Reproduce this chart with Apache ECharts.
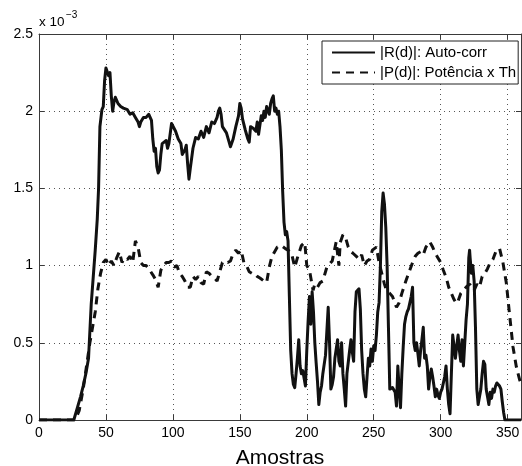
<!DOCTYPE html>
<html><head><meta charset="utf-8">
<script src="https://cdn.jsdelivr.net/npm/echarts/dist/echarts.min.js"></script>
<style>html,body{margin:0;padding:0;background:#fff}#c{width:522px;height:466px}</style>
</head><body><div id="c"></div>
<script>
// x tick values and y tick values (y in units of 10^-3)
const xTicks = [0, 50, 100, 150, 200, 250, 300, 350];
const yTicks = [0, 0.5, 1, 1.5, 2, 2.5];
const xMax = 360;
const xAxisName = 'Amostras';
const scaleExponentBase = 'x 10';
const scaleExponent = '\u22123';
const seriesNames = ['|R(d)|: Auto-corr', '|P(d)|: Potência x Th'];

// |R(d)| samples [amostra, valor x10^-3]
const rSamples = [[0,0],[26,0],[29,0.09],[31,0.15],[33,0.22],[35,0.3],[37,0.4],[39,0.75],[42,1.1],[43.5,1.3],[44.5,1.5],[45.5,1.9],[47,2.01],[48,2.03],[49,2.2],[50,2.28],[51,2.27],[52,2.23],[53,2.25],[54,2.1],[55,2.0],[56,2.06],[57,2.09],[58,2.07],[59,2.05],[60,2.06],[61,2.03],[62,2.04],[63,2.02],[64,2.03],[66,2.01],[67,2.02],[68,1.98],[70,1.99],[72,1.96],[74,1.93],[75,1.9],[76,1.93],[78,1.96],[80,1.96],[82,1.98],[83,1.97],[84,1.94],[85,1.82],[86,1.74],[87,1.76],[88,1.64],[89,1.6],[90,1.62],[91,1.72],[92,1.79],[93,1.79],[95,1.81],[96,1.76],[97,1.79],[99,1.92],[100,1.93],[102,1.87],[104,1.82],[106,1.79],[107,1.72],[109,1.75],[110,1.78],[111,1.66],[112,1.56],[113,1.63],[115,1.76],[117,1.83],[119,1.82],[121,1.87],[122,1.88],[123,1.83],[125,1.9],[127,1.86],[129,1.93],[131,1.92],[133,1.96],[134,2.0],[135,2.02],[136,1.98],[137,1.9],[138,1.91],[140,1.86],[142,1.8],[143,1.77],[145,1.82],[147,1.9],[149,1.97],[150,2.05],[151,2.02],[152,1.95],[154,1.88],[156,1.82],[157,1.8],[158,1.9],[160,1.89],[162,1.87],[163,1.93],[164,1.85],[166,1.97],[167,1.94],[168,2.0],[169,1.96],[170,2.03],[172,1.98],[173,2.05],[174,2.08],[175,2.1],[176,2.0],[177,2.02],[178,1.98],[179,2.0],[180,1.9],[181,1.75],[182,1.48],[183,1.28],[184,1.2],[185,1.22],[186,1.16],[187,0.8],[188,0.45],[189,0.3],[190,0.23],[191,0.21],[192,0.3],[193,0.4],[194,0.52],[195,0.35],[196,0.3],[197,0.32],[198,0.27],[199,0.22],[200,0.45],[201,0.64],[202,0.8],[203,0.62],[204,0.83],[205,0.7],[206,0.5],[207,0.37],[208,0.25],[209,0.1],[210,0.18],[211,0.22],[212,0.3],[214,0.42],[216,0.73],[217,0.5],[218,0.2],[219,0.23],[220,0.28],[221,0.4],[223,0.52],[224,0.38],[225,0.35],[226,0.5],[227,0.3],[228,0.2],[229,0.09],[230,0.3],[232,0.45],[233,0.52],[234,0.44],[235,0.38],[236,0.7],[237,0.83],[238,0.83],[239,0.85],[240,0.72],[241,0.45],[242,0.3],[243,0.2],[244,0.15],[245,0.28],[246,0.4],[247,0.35],[248,0.46],[249,0.38],[250,0.48],[251,0.45],[252,0.55],[253,0.7],[254,0.76],[255,1.0],[256,1.35],[257,1.47],[258,1.4],[259,1.25],[260,1.0],[261,0.6],[262,0.2],[263,0.19],[264,0.21],[265,0.2],[266,0.18],[267,0.09],[268,0.35],[269,0.2],[270,0.08],[271,0.3],[272,0.47],[273,0.62],[274,0.67],[275,0.7],[276,0.72],[277,0.72],[278,0.8],[279,0.86],[280,0.5],[281,0.45],[282,0.5],[283,0.43],[284,0.35],[285,0.45],[286,0.52],[287,0.6],[288,0.4],[289,0.42],[290,0.35],[291,0.2],[292,0.28],[293,0.33],[294,0.28],[295,0.22],[296,0.15],[297,0.2],[298,0.16],[299,0.14],[300,0.18],[301,0.2],[302,0.24],[303,0.28],[304,0.35],[305,0.2],[306,0.1],[307,0.04],[308,0.3],[309,0.55],[310,0.48],[311,0.4],[312,0.48],[313,0.55],[314,0.45],[315,0.38],[316,0.52],[317,0.35],[318,0.5],[319,0.65],[320,0.75],[321,1.05],[321.6,1.1],[322,1.05],[323,0.95],[324,1.0],[325,0.9],[326,0.6],[327,0.2],[328,0.1],[329,0.15],[330,0.2],[331,0.3],[332,0.38],[333,0.36],[334,0.2],[335,0.15],[336,0.1],[337,0.18],[338,0.14],[339,0.2],[340,0.18],[341,0.22],[342,0.24],[343,0.25],[344,0.22],[345,0.2],[346,0.12],[347,0.05],[348,0],[360,0]];

// |P(d)| samples [amostra, valor x10^-3]
const pSamples = [[0,0],[27,0],[30,0.06],[33,0.2],[35.5,0.35],[38,0.5],[40,0.6],[42,0.7],[44,0.85],[46,0.95],[48,1.02],[50,1.04],[52,1.0],[54,1.03],[56,1.0],[58,1.05],[60,1.09],[62,1.02],[64,1.05],[66,1.04],[68,1.06],[70,1.02],[72,1.16],[74,1.12],[76,1.02],[78,1.0],[80,1.0],[82,0.98],[85,0.94],[87,0.91],[89,0.86],[91,0.97],[93,1.0],[95,1.02],[97,1.02],[99,1.03],[101,0.99],[103,1.0],[105,0.95],[107,0.93],[109,0.9],[111,0.86],[113,0.86],[115,0.93],[117,0.91],[119,0.93],[121,0.89],[123,0.88],[125,0.96],[127,0.95],[129,0.93],[131,0.92],[133,0.9],[135,0.96],[137,1.02],[139,1.03],[141,1.02],[143,1.03],[145,1.08],[147,1.1],[149,1.08],[151,1.1],[153,1.02],[155,1.0],[157,0.96],[159,0.95],[161,0.95],[163,0.93],[165,0.92],[168,0.9],[170,0.89],[172,0.99],[174,1.06],[176,1.09],[178,1.12],[181,1.13],[184,1.11],[186,1.1],[188.6,1.08],[191,0.99],[193,1.05],[196,1.13],[198.5,1.15],[200,1.0],[202,0.97],[204.7,0.84],[206,0.88],[208,0.86],[210,0.89],[212,0.9],[215,0.99],[217,1.01],[219,1.03],[222,1.155],[224,1.0],[225,1.15],[227,1.2],[229,1.18],[231,1.12],[233,1.09],[234.5,1.08],[237,1.06],[239,1.04],[241,1.07],[243,1.0],[245,1.03],[247,1.04],[249,1.1],[252,1.12],[254,1.02],[256,0.95],[258,0.88],[259.5,0.84],[262,0.82],[264,0.8],[267,0.73],[269,0.76],[271,0.82],[274,0.9],[276.9,0.97],[279,1.02],[281,1.06],[283,1.08],[285,1.09],[287,1.07],[289,1.12],[291.8,1.155],[294,1.12],[296,1.08],[298,1.05],[300,1.02],[302,0.97],[304.2,0.92],[306,0.86],[308,0.82],[310,0.78],[311.7,0.755],[313,0.77],[315,0.82],[317,0.84],[319,0.86],[321.6,0.88],[323,0.86],[325,0.84],[327,0.88],[329,0.86],[331,0.93],[333,0.95],[335,0.98],[337,1.02],[339,1.04],[341.6,1.1],[343,1.1],[344,1.11],[346.5,1.02],[349,0.89],[351.5,0.68],[354,0.475],[356.5,0.345],[359,0.26],[360,0.24]];

const FONT = '"Liberation Sans", Arial, Helvetica, sans-serif';
const AXIS_COLOR = '#3a3a3a';
const chart = echarts.init(document.getElementById('c'), null, {renderer: 'canvas'});

const xStep = xTicks[1] - xTicks[0];
const yStep = yTicks[1] - yTicks[0];

function baseAxis(extra) {
  return Object.assign({
    type: 'value',
    axisLine: {show: true, onZero: false, lineStyle: {color: AXIS_COLOR, width: 1}},
    axisTick: {show: true, inside: true, length: 5, lineStyle: {color: AXIS_COLOR, width: 1}},
  }, extra);
}

chart.setOption({
  animation: false,
  backgroundColor: '#fff',
  textStyle: {fontFamily: FONT},
  grid: {left: 39, right: 1, top: 34, bottom: 46, containLabel: false, outerBoundsMode: 'none'},
  xAxis: [
    baseAxis({
      min: xTicks[0], max: xMax, interval: xStep, position: 'bottom',
      axisLabel: {show: true, showMaxLabel: false, color: '#000', fontSize: 14, margin: 6, fontFamily: FONT},
      splitLine: {show: true, lineStyle: {type: [1, 4], color: '#555', width: 1}},
      name: xAxisName, nameLocation: 'middle', nameGap: 28,
      nameTextStyle: {fontSize: 21, color: '#000', fontFamily: FONT}
    }),
    baseAxis({
      min: xTicks[0], max: xMax, interval: xStep, position: 'top',
      axisLabel: {show: false}, splitLine: {show: false}
    })
  ],
  yAxis: [
    baseAxis({
      min: yTicks[0], max: yTicks[yTicks.length - 1], interval: yStep, position: 'left',
      axisLabel: {show: true, color: '#000', fontSize: 14, margin: 6, fontFamily: FONT},
      splitLine: {show: true, lineStyle: {type: [1, 4], color: '#555', width: 1}}
    }),
    baseAxis({
      min: yTicks[0], max: yTicks[yTicks.length - 1], interval: yStep, position: 'right',
      axisLabel: {show: false}, splitLine: {show: false}
    })
  ],
  legend: {
    orient: 'vertical',
    left: 322, top: 41,
    padding: [4, 2, 4, 9],
    itemGap: 5,
    itemWidth: 43, itemHeight: 12,
    backgroundColor: '#fff',
    borderColor: '#222', borderWidth: 1, borderRadius: 0,
    itemStyle: {opacity: 0},
    textStyle: {color: '#000', fontSize: 15, fontFamily: FONT},
    data: seriesNames
  },
  graphic: [
    {type: 'text', left: 39, top: 15, style: {text: scaleExponentBase, fontSize: 13.5, fontFamily: FONT, fill: '#000'}},
    {type: 'text', left: 66, top: 10, style: {text: scaleExponent, fontSize: 10, fontFamily: FONT, fill: '#000'}}
  ],
  series: [
    {
      name: seriesNames[0], type: 'line', data: rSamples, xAxisIndex: 0, yAxisIndex: 0,
      showSymbol: false, symbol: 'none', smooth: false,
      lineStyle: {color: '#111', width: 3, type: 'solid', join: 'round'},
      itemStyle: {color: '#111'}
    },
    {
      name: seriesNames[1], type: 'line', data: pSamples, xAxisIndex: 0, yAxisIndex: 0,
      showSymbol: false, symbol: 'none', smooth: false,
      lineStyle: {color: '#111', width: 3, type: [8, 6], cap: 'butt'},
      itemStyle: {color: '#111'}
    }
  ]
});
</script>
</body></html>
